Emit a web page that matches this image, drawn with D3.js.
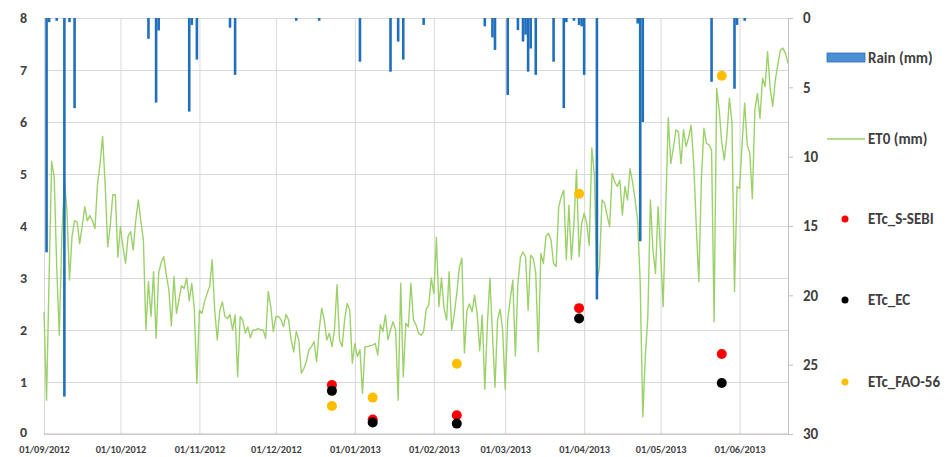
<!DOCTYPE html>
<html>
<head>
<meta charset="utf-8">
<script src="https://cdn.jsdelivr.net/npm/d3@7"></script>
<style>
  body { margin: 0; background: #fff; }
  svg text { font-family: Carlito, Lato, "Open Sans", sans-serif; fill: #3f3f3f; }
</style>
</head>
<body>
<svg id="chart" width="950" height="457"></svg>
<script>
// Daily reference evapotranspiration ET0 (mm), one value per day from the start date
const et0Start = "2012-09-01";
const et0 = [
  2.35, 0.65, 3.0, 5.24, 4.95, 3.2, 1.9, 3.8, 4.88, 4.3,
  2.96, 3.8, 4.1, 4.08, 3.66, 4.0, 4.37, 4.1, 4.2, 4.1,
  3.95, 4.8, 5.2, 5.72, 4.8, 3.6, 4.0, 4.6, 4.6, 3.4,
  3.99, 3.6, 3.28, 3.8, 3.89, 3.54, 4.1, 4.5, 4.1, 3.73,
  2.0, 2.93, 2.26, 3.12, 1.84, 3.1, 3.3, 3.41, 3.06, 2.77,
  2.08, 3.03, 2.32, 2.6, 2.85, 2.8, 3.0, 2.56, 2.9, 2.4,
  0.97, 2.38, 2.32, 2.55, 2.7, 2.83, 3.35, 2.38, 1.81, 2.38,
  2.54, 2.26, 2.22, 2.3, 2.0, 2.29, 1.1, 2.26, 2.19, 1.94,
  2.06, 1.85, 2.0, 2.0, 2.03, 2.0, 2.0, 1.84, 2.74, 2.45,
  1.97, 2.26, 2.26, 2.2, 2.06, 2.3, 2.19, 1.81, 1.58, 1.97,
  1.81, 1.17, 1.26, 1.4, 1.62, 1.68, 1.78, 1.39, 2.0, 2.42,
  2.19, 1.81, 1.94, 1.68, 2.0, 2.87, 1.81, 1.68, 2.2, 2.51,
  2.38, 1.36, 1.74, 1.49, 1.62, 0.78, 1.68, 1.68, 1.7, 1.71,
  1.74, 1.52, 2.1, 1.97, 2.29, 1.81, 2.0, 2.16, 2.0, 0.65,
  2.9, 1.1, 2.13, 2.06, 2.9, 2.19, 2.1, 1.94, 1.9, 1.97,
  2.4, 2.48, 3.0, 2.7, 3.78, 2.45, 3.0, 2.42, 2.19, 3.12,
  2.0, 2.3, 2.7, 3.2, 3.38, 1.56, 2.38, 2.5, 2.35, 2.67,
  2.3, 1.6, 2.29, 0.86, 2.1, 2.99, 1.94, 0.9, 2.19, 2.4,
  2.0, 0.86, 2.2, 2.6, 2.96, 1.5, 2.9, 3.4, 3.5, 3.41,
  2.38, 3.44, 3.38, 3.1, 1.58, 3.47, 3.28, 3.8, 3.86, 3.73,
  3.28, 3.22, 4.37, 4.56, 4.69, 3.35, 4.4, 3.35, 4.05, 5.08,
  3.41, 4.05, 4.24, 4.05, 3.63, 5.5, 5.0, 2.9, 3.22, 4.5,
  4.44, 4.2, 3.99, 5.01, 4.85, 4.76, 4.88, 4.21, 4.76, 4.5,
  5.1, 4.85, 4.5, 4.1, 2.9, 0.33, 1.5, 2.26, 4.5, 3.54,
  3.09, 4.37, 3.5, 2.45, 4.3, 6.08, 5.2, 5.5, 5.85, 5.81,
  5.2, 5.85, 5.53, 5.7, 5.94, 5.2, 4.0, 2.93, 4.88, 5.88,
  5.59, 5.56, 5.46, 2.16, 6.65, 6.23, 5.6, 5.27, 5.72, 6.46,
  6.0, 2.74, 4.76, 4.72, 5.6, 6.36, 5.56, 5.4, 4.53, 6.23,
  6.55, 6.07, 6.84, 6.68, 7.35, 6.65, 6.3, 6.8, 7.1, 7.38,
  7.42, 7.32, 7.13
];

// Daily rainfall (mm), rainy days only
const rainDates = [
  "2012-09-02", "2012-09-03", "2012-09-06", "2012-09-09", "2012-09-11", "2012-09-13",
  "2012-10-12", "2012-10-15", "2012-10-16", "2012-10-28", "2012-10-29", "2012-10-31",
  "2012-11-13", "2012-11-15", "2012-12-09", "2012-12-18",
  "2013-01-03", "2013-01-15", "2013-01-18", "2013-01-20", "2013-01-28",
  "2013-02-21", "2013-02-24", "2013-02-25",
  "2013-03-02", "2013-03-06", "2013-03-08", "2013-03-09", "2013-03-10", "2013-03-11",
  "2013-03-13", "2013-03-20", "2013-03-24", "2013-03-25", "2013-03-28", "2013-03-30",
  "2013-03-31", "2013-04-01", "2013-04-06", "2013-04-22", "2013-04-23", "2013-04-24",
  "2013-05-21", "2013-05-30", "2013-05-31", "2013-06-03"
];
const rainMm = [
  16.9, 0.3, 0.2, 27.3, 0.3, 6.5,
  1.5, 6.1, 0.9, 6.75, 0.5, 3.0,
  0.7, 4.1, 0.2, 0.2,
  3.15, 3.87, 1.7, 3.0, 0.5,
  0.6, 1.4, 2.3,
  5.55, 0.87, 1.7, 1.2, 3.87, 2.2,
  4.1, 3.15, 6.5, 0.3, 0.2, 0.5,
  0.6, 4.1, 20.3, 0.4, 16.1, 7.5,
  4.6, 5.1, 0.5, 0.2
];

// Crop evapotranspiration estimates on image dates (mm)
const sampleDates = ["2012-12-23", "2013-01-08", "2013-02-10", "2013-03-30", "2013-05-25"];
const etcSSEBI = [0.94, 0.28, 0.36, 2.42, 1.54];
const etcEC    = [0.83, 0.22, 0.20, 2.22, 0.98];
const etcFAO56 = [0.54, 0.70, 1.35, 4.62, 6.89];

// Axis ticks
const monthTicks = ["2012-09-01", "2012-10-01", "2012-11-01", "2012-12-01", "2013-01-01",
                    "2013-02-01", "2013-03-01", "2013-04-01", "2013-05-01", "2013-06-01"];
const leftTicks = [0, 1, 2, 3, 4, 5, 6, 7, 8];
const rightTicks = [0, 5, 10, 15, 20, 25, 30];

(function drawChart() {
  const parse = d3.timeParse("%Y-%m-%d");
  const svg = d3.select("#chart");

  const plotLeft = 44, plotRight = 788, plotTop = 18, plotBottom = 434;
  const x = d3.scaleTime()
    .domain([parse("2012-09-01"), parse("2013-06-20")])
    .range([plotLeft, plotRight]);
  const yL = d3.scaleLinear().domain([0, 8]).range([plotBottom, plotTop]);
  const yR = d3.scaleLinear().domain([0, 30]).range([plotTop, plotBottom]);

  const gridColor = "#d9d9d9";
  const axisColor = "#bfbfbf";

  // Horizontal gridlines + left labels
  const gLeft = svg.append("g").attr("transform", `translate(${plotLeft},0)`)
    .call(d3.axisLeft(yL).tickValues(leftTicks).tickSize(-(plotRight - plotLeft)).tickPadding(17));
  gLeft.select(".domain").remove();
  gLeft.selectAll(".tick line").attr("stroke", gridColor);
  gLeft.selectAll(".tick text").attr("font-size", 14).attr("font-weight", "bold")
    .attr("dy", d => d === 0 ? "0.2em" : "0.32em");

  // Vertical gridlines + date labels
  const gBottom = svg.append("g").attr("transform", `translate(0,${plotBottom})`)
    .call(d3.axisBottom(x).tickValues(monthTicks.map(parse))
      .tickFormat(d3.timeFormat("%d/%m/%Y")).tickSize(-(plotBottom - plotTop)).tickPadding(12));
  gBottom.select(".domain").remove();
  gBottom.selectAll(".tick line").attr("stroke", gridColor);
  gBottom.selectAll(".tick text").attr("font-size", 10.3).attr("font-weight", "bold");

  // Bottom axis line
  svg.append("line").attr("x1", plotLeft).attr("x2", plotRight)
    .attr("y1", plotBottom).attr("y2", plotBottom).attr("stroke", axisColor);

  // Right (rain) axis
  const gRight = svg.append("g").attr("transform", `translate(${plotRight},0)`)
    .call(d3.axisRight(yR).tickValues(rightTicks).tickSize(5).tickPadding(10).tickSizeOuter(0));
  gRight.select(".domain").attr("stroke", axisColor);
  gRight.selectAll(".tick line").attr("stroke", axisColor);
  gRight.selectAll(".tick text").attr("font-size", 15).attr("font-weight", "bold");

  // ET0 line
  const et0Data = et0.map((v, i) => ({ date: d3.timeDay.offset(parse(et0Start), i), value: v }));
  svg.append("path")
    .datum(et0Data)
    .attr("fill", "none")
    .attr("stroke", "#9cd16a")
    .attr("stroke-width", 1.4)
    .attr("stroke-linejoin", "round")
    .attr("d", d3.line().x(d => x(d.date)).y(d => yL(d.value)));

  // Rain bars hanging from the top
  const barW = 2.6;
  svg.append("g").selectAll("rect")
    .data(rainDates.map((d, i) => ({ date: parse(d), mm: rainMm[i] })))
    .join("rect")
    .attr("x", d => x(d.date) - barW / 2)
    .attr("y", yR(0))
    .attr("width", barW)
    .attr("height", d => yR(d.mm) - yR(0))
    .attr("fill", "#1f6fbd");

  // ETc points
  const series = [
    { name: "ETc_S-SEBI", values: etcSSEBI, color: "#ff0000" },
    { name: "ETc_EC", values: etcEC, color: "#000000" },
    { name: "ETc_FAO-56", values: etcFAO56, color: "#ffbf00" }
  ];
  series.forEach(s => {
    svg.append("g").selectAll("circle")
      .data(sampleDates.map((d, i) => ({ date: parse(d), value: s.values[i] })))
      .join("circle")
      .attr("cx", d => x(d.date))
      .attr("cy", d => yL(d.value))
      .attr("r", 5)
      .attr("fill", s.color);
  });

  // Legend
  const lx = 827, tx = 868, fs = 15;
  const legend = svg.append("g");
  legend.append("rect").attr("x", lx).attr("y", 53).attr("width", 38).attr("height", 9)
    .attr("fill", "#4a8fd6").attr("stroke", "#2f6db0").attr("stroke-width", 0.8);
  legend.append("text").attr("x", tx).attr("y", 57.5).attr("dy", "0.35em")
    .attr("font-size", fs).attr("font-weight", "bold").text("Rain (mm)");
  legend.append("line").attr("x1", lx).attr("x2", lx + 38).attr("y1", 139).attr("y2", 139)
    .attr("stroke", "#9cd16a").attr("stroke-width", 1.4);
  legend.append("text").attr("x", tx).attr("y", 139).attr("dy", "0.35em")
    .attr("font-size", fs).attr("font-weight", "bold").text("ET0 (mm)");
  const legendY = [219, 300, 382];
  series.forEach((s, i) => {
    legend.append("circle").attr("cx", 845).attr("cy", legendY[i]).attr("r", 3.5).attr("fill", s.color);
    legend.append("text").attr("x", tx).attr("y", legendY[i]).attr("dy", "0.35em")
      .attr("font-size", fs).attr("font-weight", "bold").text(s.name);
  });
})();
</script>
</body>
</html>
